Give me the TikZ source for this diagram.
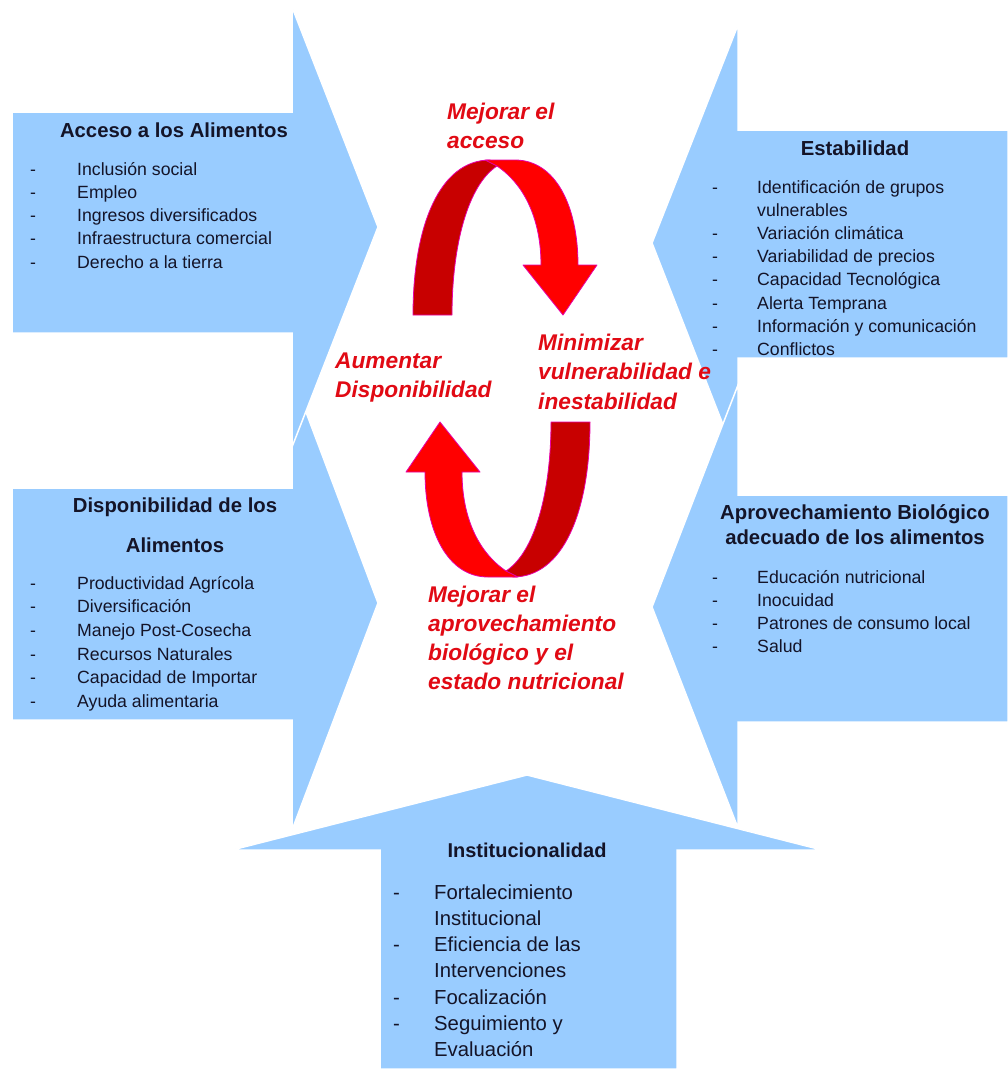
\documentclass[tikz,border=0pt]{standalone}
\usepackage{fontspec}
\setmainfont{Liberation Sans}
\usetikzlibrary{positioning}
\definecolor{azul}{RGB}{153,204,255}
\definecolor{rojo}{RGB}{255,0,0}
\definecolor{rojoosc}{RGB}{200,0,0}
\definecolor{rosa}{RGB}{230,0,170}
\definecolor{tinta}{RGB}{20,20,40}
\definecolor{rtinta}{RGB}{225,10,20}

\begin{document}
\begin{tikzpicture}[x=1pt,y=-1pt,
    flecha/.style={fill=azul,draw=white,line width=1.5pt,line join=miter},
    curva/.style={draw=rosa,line width=0.8pt,line join=round},
    titulo/.style={anchor=base,inner sep=0pt,text=tinta,font=\bfseries\fontsize{20.3}{24}\selectfont},
    lista/.style={anchor=base west,inner sep=0pt,text=tinta,font=\fontsize{17.7}{23.3}\selectfont},
    meta/.style={anchor=base west,inner sep=0pt,text=rtinta,font=\bfseries\itshape\fontsize{22.7}{29.5}\selectfont}]
  \useasboundingbox (0,0) rectangle (1008,1069);

  % big blue arrows
  \fill[flecha] (12,488) -- (292,488) -- (292,375) -- (378,603) -- (292,830) -- (292,720) -- (12,720) -- cycle;
  \fill[flecha] (1008,130) -- (738,130) -- (738,25) -- (652,243) -- (738,463) -- (738,358) -- (1008,358) -- cycle;
  \filldraw[flecha] (12,112) -- (292,112) -- (292,7) -- (378,227) -- (292,447) -- (292,333) -- (12,333) -- cycle;
  \filldraw[flecha] (1008,495) -- (738,495) -- (738,385) -- (652,607) -- (738,828) -- (738,722) -- (1008,722) -- cycle;
  \filldraw[flecha] (380,1069) -- (380,850) -- (232,850) -- (527,775) -- (822,850) -- (677,850) -- (677,1069) -- cycle;

  % red cycle
  \foreach \ang in {0,180}{
    \begin{scope}[rotate around={\ang:(501.5,368.5)}]
      \filldraw[curva,fill=rojoosc] (413,315) .. controls (413,225) and (440,160) .. (490,160)
        -- (497,166) .. controls (468,185) and (452,245) .. (452,315) -- cycle;
      \filldraw[curva,fill=rojo] (485,160) -- (515,160) .. controls (555,160) and (578,205) .. (578,265)
        -- (597,265) -- (563,315) -- (523,265) -- (541,265)
        .. controls (541,220) and (525,185) .. (497,166) -- cycle;
    \end{scope}
  }

  % titles
  \node[titulo] (acc_t) at (174,137) {Acceso a los Alimentos};
  \node[titulo] (est_t) at (855,155) {Estabilidad};
  \node[titulo] (dis_t) at (175,512) {Disponibilidad de los};
  \node[titulo] (dis_t2) [below=40pt of dis_t.base, anchor=base] {Alimentos};
  \node[titulo] (apr_t) at (855,519) {Aprovechamiento Biológico};
  \node[titulo] (apr_t2) [below=25pt of apr_t.base, anchor=base] {adecuado de los alimentos};
  \node[titulo,font=\bfseries\fontsize{20}{24}\selectfont] (ins_t) at (527,857) {Institucionalidad};

  % lists
  \node[lista] (acc_l) at (30,175) {\begin{tabular}[t]{@{}p{47pt}@{}l@{}}
    - & Inclusión social\\ - & Empleo\\ - & Ingresos diversificados\\
    - & Infraestructura comercial\\ - & Derecho a la tierra\end{tabular}};
  \node[lista,font=\fontsize{17.7}{23.2}\selectfont] (est_l) at (712,193) {\begin{tabular}[t]{@{}p{45pt}@{}l@{}}
    - & Identificación de grupos\\ & vulnerables\\ - & Variación climática\\
    - & Variabilidad de precios\\ - & Capacidad Tecnológica\\ - & Alerta Temprana\\
    - & Información y comunicación\\ - & Conflictos\end{tabular}};
  \node[lista,font=\fontsize{17.7}{23.7}\selectfont] (dis_l) at (30,589) {\begin{tabular}[t]{@{}p{47pt}@{}l@{}}
    - & Productividad Agrícola\\ - & Diversificación\\ - & Manejo Post-Cosecha\\
    - & Recursos Naturales\\ - & Capacidad de Importar\\ - & Ayuda alimentaria\end{tabular}};
  \node[lista,font=\fontsize{17.7}{23}\selectfont] (apr_l) at (712,583) {\begin{tabular}[t]{@{}p{45pt}@{}l@{}}
    - & Educación nutricional\\ - & Inocuidad\\ - & Patrones de consumo local\\
    - & Salud\end{tabular}};
  \node[lista,font=\fontsize{20.3}{26.3}\selectfont] (ins_l) at (393,899) {\begin{tabular}[t]{@{}p{41pt}@{}l@{}}
    - & Fortalecimiento\\ & Institucional\\ - & Eficiencia de las\\ & Intervenciones\\
    - & Focalización\\ - & Seguimiento y\\ & Evaluación\end{tabular}};

  % red goals
  \node[meta] (m_acc) at (447,119) {\begin{tabular}[t]{@{}l@{}}Mejorar el\\acceso\end{tabular}};
  \node[meta] (m_dis) at (335,368) {\begin{tabular}[t]{@{}l@{}}Aumentar\\Disponibilidad\end{tabular}};
  \node[meta] (m_vul) at (538,350) {\begin{tabular}[t]{@{}l@{}}Minimizar\\vulnerabilidad e\\inestabilidad\end{tabular}};
  \node[meta,font=\bfseries\itshape\fontsize{22.7}{29}\selectfont] (m_apr) at (428,602) {\begin{tabular}[t]{@{}l@{}}Mejorar el\\aprovechamiento\\biológico y el\\estado nutricional\end{tabular}};
\end{tikzpicture}
\end{document}
